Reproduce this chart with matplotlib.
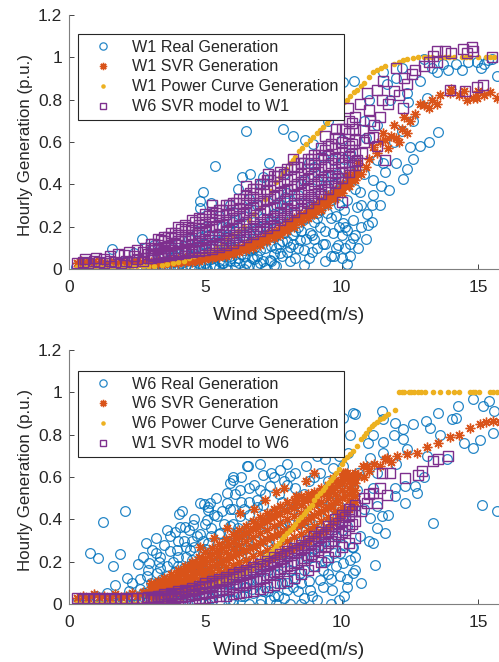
import numpy as np
import matplotlib.pyplot as plt
from matplotlib.ticker import FixedLocator

plt.rcParams['font.family'] = ['Liberation Sans', 'DejaVu Sans']

BLUE = '#0072BD'
ORANGE = '#D95319'
YELLOW = '#EDB120'
PURPLE = '#7E2F8E'
TEXT = '#262626'

band_x = [3.0, 3.25, 3.5, 3.75, 4.0, 4.25, 4.5, 4.75, 5.0, 5.25, 5.5, 5.75, 6.0, 6.25, 6.5, 6.75,
          7.0, 7.25, 7.5, 7.75, 8.0, 8.25, 8.5, 8.75, 9.0, 9.25, 9.5, 9.75, 10.0, 10.25, 10.5]
band_x_half = [3.125, 3.375, 3.625, 3.875, 4.125, 4.375, 4.625, 4.875, 5.125, 5.375, 5.625, 5.875,
               6.125, 6.375, 6.625, 6.875, 7.125, 7.375, 7.625, 7.875, 8.125, 8.375, 8.625, 8.875,
               9.125, 9.375, 9.625, 9.875, 10.125, 10.375]

# ---------------- W1 panel (wind speed m/s, generation p.u.) ----------------
w1_real = [
    (0.25, 0.01), (0.4, 0.0), (0.55, 0.02), (0.7, 0.005), (0.85, 0.015), (1.0, 0.0), (1.15, 0.01),
    (1.3, 0.02), (1.45, 0.005), (1.6, 0.0), (1.75, 0.015), (1.9, 0.01), (2.05, 0.0), (2.2, 0.02),
    (2.35, 0.005), (2.5, 0.015), (2.65, 0.0), (2.8, 0.025), (2.95, 0.01), (3.1, 0.0), (3.25, 0.03),
    (3.4, 0.005), (3.55, 0.02), (3.7, 0.0), (3.85, 0.035), (4.0, 0.01), (4.15, 0.0), (4.3, 0.04),
    (4.45, 0.015), (4.6, 0.0), (4.75, 0.03), (4.9, 0.01), (5.05, 0.0), (5.2, 0.045), (5.35, 0.015),
    (5.5, 0.005), (5.65, 0.03), (5.8, 0.0), (5.95, 0.05), (6.1, 0.01), (6.25, 0.03), (6.4, 0.0),
    (6.6, 0.02), (6.8, 0.045), (7.0, 0.027), (7.2, 0.005), (7.4, 0.04), (7.6, 0.015),
    (1.57, 0.093), (2.4, 0.075), (2.66, 0.14), (3.0, 0.09), (3.1, 0.113), (2.0, 0.04), (3.5, 0.07),
    (3.8, 0.1), (4.0, 0.12), (4.2, 0.08), (4.4, 0.14), (4.6, 0.1), (4.8, 0.32), (4.8, 0.29),
    (4.9, 0.365), (5.2, 0.31), (5.35, 0.487), (4.5, 0.06), (4.7, 0.18), (4.9, 0.12), (5.0, 0.2),
    (5.1, 0.08), (5.3, 0.16), (5.5, 0.25), (5.6, 0.12), (5.7, 0.06), (5.8, 0.2), (5.9, 0.3),
    (6.0, 0.1), (6.1, 0.18), (6.2, 0.38), (6.33, 0.436), (6.49, 0.65), (6.64, 0.45), (6.3, 0.07),
    (6.4, 0.25), (6.5, 0.14), (6.6, 0.33), (6.7, 0.05), (6.76, 0.121), (6.8, 0.22), (6.9, 0.3),
    (7.0, 0.4), (7.0, 0.09), (7.13, 0.436), (7.2, 0.16), (7.33, 0.5), (7.37, 0.168), (7.37, 0.042),
    (7.5, 0.26), (7.5, 0.35), (7.6, 0.1), (7.74, 0.074), (7.7, 0.2), (7.8, 0.247), (7.86, 0.66),
    (7.92, 0.34), (7.9, 0.45), (8.0, 0.13), (8.1, 0.105), (8.2, 0.63), (8.2, 0.3), (8.3, 0.05),
    (8.4, 0.2), (8.47, 0.137), (8.5, 0.4), (8.59, 0.23), (8.65, 0.61), (8.71, 0.31), (8.8, 0.5),
    (8.84, 0.168), (8.9, 0.08), (8.96, 0.59), (9.02, 0.85), (9.08, 0.263), (9.1, 0.42), (9.2, 0.2),
    (9.3, 0.12), (9.33, 0.53), (9.45, 0.263), (9.45, 0.39), (9.5, 0.7), (9.57, 0.326), (9.6, 0.06),
    (9.69, 0.515), (9.69, 0.168), (9.8, 0.75), (9.82, 0.45), (9.88, 0.113), (9.88, 0.89), (10.0, 0.39),
    (10.0, 0.61), (10.04, 0.885), (10.06, 0.216), (10.12, 0.098), (10.12, 0.2), (10.18, 0.326),
    (10.18, 0.184), (10.2, 0.022), (10.3, 0.55), (10.43, 0.145), (10.43, 0.23), (10.45, 0.89),
    (10.55, 0.294), (10.67, 0.365), (10.8, 0.7), (10.92, 0.26), (10.98, 0.21), (11.0, 0.8),
    (11.16, 0.42), (11.16, 0.35), (11.28, 0.515), (11.43, 0.39), (11.5, 0.93), (11.65, 0.876),
    (11.75, 0.373), (11.77, 0.80), (12.0, 0.9), (12.26, 0.424), (12.38, 0.474), (12.39, 0.83),
    (12.44, 0.79), (12.5, 0.578), (12.87, 0.58), (12.87, 0.89), (13.14, 0.81), (13.3, 0.95),
    (13.5, 0.93), (13.54, 0.646), (13.9, 0.94), (14.2, 0.97), (14.64, 0.98), (14.95, 0.98),
    (15.1, 0.95), (15.36, 0.985), (15.68, 0.91), (15.5, 0.99),
    (3.3, 0.05), (3.6, 0.04), (3.9, 0.06), (4.1, 0.05), (4.3, 0.09), (4.6, 0.07), (4.8, 0.15),
    (5.0, 0.06), (5.2, 0.11), (5.4, 0.08), (5.5, 0.04), (5.7, 0.14), (5.9, 0.06), (6.0, 0.22),
    (6.2, 0.12), (6.4, 0.09), (6.6, 0.17), (6.8, 0.1), (7.0, 0.2), (7.2, 0.28), (7.4, 0.11),
    (7.6, 0.3), (7.8, 0.06), (8.0, 0.22), (8.2, 0.16), (8.4, 0.35), (8.6, 0.09), (8.8, 0.27),
    (9.0, 0.14), (9.2, 0.36), (9.4, 0.04), (9.6, 0.44), (9.8, 0.25), (10.0, 0.05), (10.2, 0.4),
    (10.4, 0.5), (10.6, 0.1), (10.8, 0.45),
    (3.2, 0.02), (3.4, 0.06), (3.5, 0.01), (3.7, 0.05), (3.9, 0.02), (4.0, 0.08), (4.1, 0.03),
    (4.2, 0.11), (4.3, 0.02), (4.4, 0.06), (4.5, 0.1), (4.6, 0.04), (4.7, 0.13), (4.8, 0.02),
    (4.9, 0.07), (5.0, 0.12), (5.0, 0.03), (5.1, 0.16), (5.2, 0.06), (5.3, 0.02), (5.4, 0.13),
    (5.5, 0.09), (5.6, 0.2), (5.6, 0.03), (5.7, 0.1), (5.8, 0.15), (5.9, 0.04), (6.0, 0.08),
    (6.0, 0.27), (6.1, 0.13), (6.2, 0.05), (6.2, 0.2), (6.3, 0.11), (6.4, 0.16), (6.5, 0.03),
    (6.5, 0.22), (6.6, 0.09), (6.7, 0.14), (6.8, 0.28), (6.9, 0.06), (6.9, 0.19), (7.0, 0.13),
    (7.1, 0.24), (7.1, 0.04), (7.2, 0.1), (7.3, 0.18), (7.4, 0.23), (7.5, 0.07), (7.5, 0.15),
    (7.6, 0.2), (7.7, 0.12), (7.8, 0.3), (7.9, 0.17), (8.0, 0.08), (8.0, 0.36), (8.1, 0.21),
    (8.2, 0.12), (8.3, 0.27), (8.4, 0.1), (8.5, 0.18), (8.6, 0.24), (8.6, 0.42), (8.7, 0.14),
    (8.8, 0.05), (8.9, 0.3), (9.0, 0.22), (9.0, 0.48), (9.1, 0.1), (9.2, 0.28), (9.3, 0.44),
    (9.4, 0.18), (9.5, 0.34), (9.6, 0.24), (9.7, 0.4), (9.8, 0.1), (9.9, 0.3), (10.0, 0.16),
    (10.1, 0.52), (10.3, 0.12), (10.5, 0.38), (10.7, 0.2), (10.9, 0.62), (11.1, 0.3), (11.3, 0.68),
    (11.5, 0.5), (11.9, 0.6), (12.2, 0.95), (12.6, 0.7), (13.0, 0.99), (13.7, 0.97), (14.4, 0.94),
    (15.2, 0.97),
    (5.3, 0.05), (5.6, 0.08), (5.9, 0.12), (6.1, 0.04), (6.4, 0.06), (6.7, 0.1), (6.9, 0.02),
    (7.2, 0.14), (7.5, 0.02), (7.8, 0.13), (8.1, 0.04), (8.3, 0.18), (8.6, 0.02), (8.9, 0.16),
    (9.1, 0.24), (9.4, 0.12), (9.7, 0.06), (9.9, 0.2), (10.1, 0.28), (10.3, 0.06), (10.5, 0.16),
    (10.7, 0.3), (10.9, 0.14), (11.1, 0.22), (11.4, 0.3), (11.6, 0.46), (12.0, 0.5), (12.2, 0.65),
    (12.6, 0.52), (13.2, 0.6),
]

w1_svr = [
    (0.3, 0.03), (0.45, 0.04), (0.6, 0.025), (0.75, 0.035), (0.9, 0.04), (1.05, 0.03), (1.2, 0.035),
    (1.4, 0.025), (1.6, 0.04), (1.8, 0.03), (2.0, 0.035), (2.2, 0.03), (2.4, 0.04), (2.6, 0.035),
    (2.8, 0.04), (10.7, 0.45), (10.9, 0.48), (11.0, 0.52), (11.16, 0.578), (11.3, 0.55),
    (11.4, 0.6), (11.6, 0.61), (11.8, 0.63), (12.0, 0.62), (12.2, 0.66), (12.38, 0.64),
    (12.5, 0.7), (12.7, 0.73), (12.87, 0.78), (13.0, 0.775), (13.3, 0.8), (13.6, 0.82), (13.97, 0.83),
    (14.3, 0.82), (14.6, 0.8), (14.8, 0.81), (14.95, 0.806), (15.2, 0.82), (15.44, 0.838),
    (15.68, 0.81), (15.9, 0.83),
    (11.7, 0.57), (12.1, 0.6), (11.9, 0.68), (12.3, 0.72), (11.5, 0.64), (13.2, 0.76), (13.5, 0.78),
    (14.0, 0.85), (14.5, 0.84), (15.0, 0.84), (10.18, 0.45), (10.6, 0.5),
]
w1_svr_band = [
    [.02, .022, .025, .027, .03, .032, .035, .04, .045, .05, .055, .06, .07, .08, .09, .1,
     .115, .13, .145, .16, .18, .2, .22, .24, .26, .28, .3, .33, .36, .39, .42],
    [.03, .032, .035, .037, .04, .043, .046, .05, .055, .06, .066, .073, .082, .093, .105, .118,
     .132, .147, .163, .18, .2, .22, .24, .26, .28, .305, .33, .355, .38, .41, .44],
    [.035, .038, .04, .043, .047, .05, .054, .058, .063, .07, .077, .085, .095, .106, .118, .132,
     .147, .163, .18, .2, .22, .24, .26, .28, .3, .325, .35, .375, .4, .43, .46],
]
w1_svr_band_half = [
    [.028, .031, .034, .037, .041, .044, .048, .052, .057, .063, .07, .078, .088, .1, .112, .125,
     .14, .155, .172, .19, .21, .23, .25, .27, .29, .315, .34, .365, .39, .42],
]

w1_curve = [
    (0.3, 0.01), (0.5, 0.01), (0.7, 0.012), (0.9, 0.01), (1.1, 0.012), (1.3, 0.01), (1.5, 0.012),
    (1.7, 0.01), (1.9, 0.012), (2.1, 0.01), (2.3, 0.012), (2.5, 0.012), (2.7, 0.013), (2.9, 0.015),
    (3.1, 0.016), (3.4, 0.02), (3.6, 0.025), (3.8, 0.03), (4.0, 0.035), (4.2, 0.04), (4.4, 0.05),
    (4.6, 0.06), (4.8, 0.07), (5.0, 0.08), (5.2, 0.09), (5.4, 0.105), (5.6, 0.12), (5.8, 0.14),
    (6.0, 0.16), (6.2, 0.18), (6.4, 0.2), (6.6, 0.23), (6.8, 0.26), (7.0, 0.29), (7.2, 0.33),
    (7.4, 0.37), (7.6, 0.41), (7.74, 0.436), (7.85, 0.455), (7.95, 0.47), (8.1, 0.5), (8.2, 0.515),
    (8.3, 0.53), (8.45, 0.555), (8.55, 0.57), (8.7, 0.59), (8.85, 0.61), (8.95, 0.625), (9.08, 0.64),
    (9.2, 0.655), (9.3, 0.67), (9.45, 0.69), (9.55, 0.71), (9.7, 0.73), (9.82, 0.75), (9.94, 0.767),
    (10.1, 0.79), (10.2, 0.80), (10.3, 0.815), (10.45, 0.835), (10.55, 0.846), (10.7, 0.865),
    (10.8, 0.88), (11.0, 0.905), (11.16, 0.93), (11.3, 0.94), (11.45, 0.95), (11.6, 0.96),
    (11.9, 0.97), (12.1, 0.98), (12.25, 0.985), (12.38, 0.99), (12.6, 0.995), (12.8, 1.0),
    (13.0, 1.0), (13.15, 1.0), (13.3, 1.0), (13.6, 1.0), (13.8, 1.0), (13.95, 1.0), (14.1, 1.0),
    (14.4, 1.0), (14.55, 1.0), (14.7, 1.0), (15.0, 1.0), (15.3, 1.0), (15.45, 1.0), (15.6, 1.0),
    (15.9, 1.0),
]

w6_model_on_w1 = [
    (0.3, 0.03), (0.5, 0.035), (0.7, 0.03), (0.9, 0.04), (1.1, 0.035), (1.3, 0.03), (1.5, 0.04),
    (1.7, 0.035), (1.9, 0.03), (2.1, 0.04), (2.3, 0.035), (2.5, 0.045), (2.7, 0.04), (2.9, 0.05),
    (1.0, 0.05), (1.5, 0.06), (1.8, 0.07), (2.0, 0.065), (2.2, 0.08), (2.5, 0.09), (2.7, 0.08),
    (2.8, 0.1), (1.3, 0.045), (0.6, 0.045), (2.4, 0.06), (2.9, 0.07),
    (10.0, 0.318), (10.24, 0.76), (10.49, 0.61), (10.55, 0.515), (10.67, 0.78), (10.79, 0.657),
    (10.92, 0.83), (11.04, 0.70), (11.16, 0.625), (11.28, 0.845), (11.47, 0.80), (11.53, 0.89),
    (11.59, 0.515), (11.9, 0.84), (12.0, 0.95), (12.26, 0.76), (12.38, 0.876), (12.56, 0.92),
    (13.0, 0.96), (13.36, 1.006), (13.48, 0.98), (13.48, 1.03), (13.79, 1.03), (13.97, 0.846),
    (14.46, 1.04), (14.52, 0.84), (14.58, 1.02), (14.78, 1.05), (14.82, 1.03), (14.95, 0.86),
    (15.19, 0.87), (15.5, 1.0),
    (5.23, 0.30), (6.49, 0.39), (7.3, 0.45), (8.2, 0.52), (9.4, 0.63), (9.8, 0.66), (10.8, 0.6),
    (11.0, 0.75), (11.2, 0.68), (11.4, 0.72), (11.7, 0.78), (12.1, 0.82), (12.3, 0.9), (12.7, 0.94),
    (13.2, 0.98), (14.0, 1.02), (10.75, 0.55), (11.0, 0.62), (11.3, 0.58),
]
w6_model_on_w1_band = [
    [.05, .055, .06, .065, .07, .075, .08, .085, .09, .095, .105, .115, .125, .135, .15, .165,
     .18, .195, .21, .23, .25, .27, .29, .31, .33, .355, .38, .405, .43, .46, .49],
    [.065, .07, .075, .08, .085, .09, .1, .105, .115, .125, .135, .145, .16, .175, .19, .205,
     .22, .235, .25, .27, .29, .31, .33, .35, .37, .39, .41, .44, .46, .49, .51],
    [.07, .075, .08, .09, .1, .11, .12, .13, .14, .155, .165, .18, .19, .21, .22, .24,
     .26, .28, .29, .31, .33, .35, .36, .38, .4, .42, .44, .47, .5, .53, .55],
    [.09, .095, .1, .115, .13, .14, .16, .17, .18, .2, .21, .22, .24, .25, .27, .29,
     .31, .33, .34, .36, .38, .39, .41, .43, .45, .47, .49, .52, .55, .58, .61],
    [.1, .115, .13, .145, .16, .18, .195, .21, .22, .235, .25, .26, .28, .29, .31, .34,
     .36, .37, .39, .41, .42, .44, .45, .47, .5, .52, .54, .57, .6, .64, .66],
    [.12, .14, .15, .17, .2, .21, .23, .24, .26, .27, .28, .3, .31, .33, .35, .38,
     .4, .42, .44, .46, .47, .48, .5, .52, .54, .57, .58, .62, .66, .7, .72],
]
w6_model_on_w1_band_half = [
    [.06, .065, .07, .075, .08, .085, .09, .1, .105, .115, .125, .135, .15, .16, .175, .19,
     .205, .22, .24, .26, .28, .3, .32, .34, .36, .38, .41, .43, .46, .49],
    [.09, .1, .11, .12, .13, .14, .16, .17, .185, .2, .21, .23, .24, .26, .28, .3,
     .32, .33, .35, .37, .38, .4, .42, .44, .46, .48, .5, .53, .56, .59],
    [.12, .135, .15, .17, .19, .2, .22, .235, .25, .265, .28, .3, .31, .33, .36, .38,
     .4, .42, .44, .45, .47, .48, .5, .52, .54, .56, .59, .62, .66, .69],
]

# ---------------- W6 panel ----------------
w6_real = [
    (0.3, 0.01), (0.45, 0.0), (0.6, 0.02), (0.75, 0.005), (0.9, 0.015), (1.05, 0.0), (1.2, 0.01),
    (1.35, 0.025), (1.5, 0.005), (1.65, 0.015), (1.8, 0.0), (1.95, 0.03), (2.1, 0.01), (2.25, 0.04),
    (2.4, 0.0), (2.55, 0.02), (2.7, 0.05), (2.85, 0.01), (3.0, 0.03), (3.15, 0.06), (3.3, 0.0),
    (3.45, 0.04), (3.6, 0.08), (3.75, 0.015), (3.9, 0.05), (4.05, 0.1), (4.2, 0.0), (4.35, 0.06),
    (4.5, 0.12), (4.65, 0.02), (4.8, 0.08), (4.95, 0.14), (5.1, 0.0), (5.25, 0.05), (5.4, 0.1),
    (5.55, 0.02), (5.7, 0.16), (5.85, 0.06), (6.0, 0.0), (6.02, 0.019), (6.15, 0.1), (6.3, 0.04),
    (6.45, 0.2), (6.6, 0.0), (6.76, 0.05), (6.9, 0.12), (7.05, 0.02), (7.2, 0.08), (7.37, 0.019),
    (7.5, 0.14), (7.65, 0.04), (7.8, 0.1), (7.98, 0.066), (8.1, 0.0), (8.3, 0.12), (8.47, 0.146),
    (8.6, 0.03), (8.84, 0.066), (9.0, 0.18), (9.2, 0.114), (9.45, 0.209), (9.63, 0.066), (9.94, 0.13),
    (10.06, 0.193), (10.2, 0.08), (10.43, 0.146), (10.49, 0.161), (11.22, 0.185), (11.16, 0.288),
    (9.94, 0.24), (10.06, 0.28), (10.43, 0.27), (10.67, 0.319), (11.28, 0.359), (11.59, 0.335),
    (11.04, 0.406), (11.47, 0.414), (11.28, 0.462), (11.16, 0.548), (11.95, 0.548), (11.95, 0.51),
    (12.32, 0.478), (12.32, 0.556), (12.69, 0.556), (12.75, 0.525), (13.36, 0.383), (10.06, 0.65),
    (10.24, 0.715), (11.04, 0.69), (11.53, 0.715), (12.38, 0.73), (13.11, 0.70), (13.85, 0.683),
    (10.98, 0.762), (11.16, 0.80), (11.53, 0.765), (11.9, 0.80), (12.26, 0.778), (12.26, 0.825),
    (11.95, 0.857), (11.53, 0.873), (11.47, 0.912), (10.49, 0.896), (10.43, 0.904), (10.06, 0.88),
    (13.09, 0.865), (13.24, 0.833), (13.54, 0.904), (14.03, 0.876), (14.27, 0.936), (14.8, 0.967),
    (15.17, 0.936), (15.58, 0.912), (14.83, 0.738), (15.07, 0.775), (15.56, 0.81), (15.13, 0.47),
    (15.68, 0.438),
    (0.77, 0.243), (1.07, 0.217), (1.26, 0.386), (1.62, 0.18), (1.87, 0.237), (2.05, 0.441),
    (1.69, 0.09), (2.11, 0.122), (2.54, 0.19), (2.94, 0.196), (2.82, 0.288), (3.03, 0.256),
    (3.34, 0.224), (3.7, 0.322), (4.04, 0.427), (4.07, 0.364), (4.25, 0.364), (4.95, 0.474),
    (5.1, 0.46), (4.68, 0.32), (3.95, 0.256), (4.44, 0.256), (4.8, 0.209), (3.34, 0.17), (3.58, 0.13),
    (2.85, 0.13), (3.21, 0.146), (6.51, 0.65), (6.02, 0.60), (5.9, 0.57), (4.8, 0.477), (5.1, 0.446),
    (4.13, 0.438), (4.56, 0.375), (5.42, 0.414), (5.78, 0.477), (6.27, 0.54), (6.57, 0.65),
    (7.12, 0.61), (7.74, 0.635), (8.1, 0.604), (8.7, 0.65), (9.39, 0.683), (9.69, 0.643),
    (9.94, 0.46), (10.18, 0.367), (10.37, 0.27), (9.14, 0.27), (9.69, 0.30), (5.54, 0.335),
    (5.17, 0.477), (5.78, 0.525), (6.02, 0.588), (6.27, 0.414), (5.05, 0.398), (6.88, 0.493),
    (7.37, 0.556), (10.18, 0.572), (10.55, 0.54),
    (3.5, 0.28), (3.8, 0.2), (4.0, 0.3), (4.3, 0.22), (4.5, 0.3), (4.6, 0.19), (4.9, 0.3),
    (5.0, 0.26), (5.2, 0.36), (5.3, 0.24), (5.5, 0.2), (5.6, 0.44), (5.8, 0.3), (6.0, 0.38),
    (6.1, 0.25), (6.3, 0.48), (6.4, 0.33), (6.6, 0.42), (6.7, 0.26), (6.8, 0.56), (7.0, 0.38),
    (7.1, 0.47), (7.3, 0.3), (7.4, 0.62), (7.6, 0.44), (7.7, 0.52), (7.9, 0.38), (8.0, 0.56),
    (8.2, 0.45), (8.3, 0.62), (8.5, 0.3), (8.6, 0.52), (8.8, 0.4), (9.0, 0.6), (9.1, 0.35),
    (9.3, 0.5), (9.5, 0.58), (9.7, 0.38), (9.8, 0.54), (7.0, 0.0), (7.3, 0.06), (7.6, 0.0),
    (7.9, 0.03), (8.2, 0.08), (8.5, 0.0), (8.8, 0.11), (9.1, 0.02), (9.3, 0.16), (9.6, 0.0),
    (9.8, 0.18), (10.1, 0.04), (10.3, 0.21), (6.5, 0.08), (6.9, 0.18), (7.2, 0.22), (7.8, 0.2),
    (8.4, 0.24), (8.9, 0.22), (9.4, 0.3), (8.0, 0.28), (6.2, 0.16), (5.8, 0.12), (5.3, 0.15),
    (4.9, 0.05), (4.4, 0.15), (3.9, 0.12), (3.6, 0.35), (3.2, 0.31), (2.7, 0.22), (2.3, 0.1),
    (2.6, 0.07), (3.0, 0.1), (1.4, 0.05), (1.0, 0.04),
    (2.0, 0.02), (2.2, 0.06), (2.4, 0.03), (2.6, 0.12), (2.8, 0.05), (2.9, 0.16), (3.1, 0.02),
    (3.2, 0.09), (3.3, 0.2), (3.4, 0.12), (3.5, 0.05), (3.6, 0.18), (3.7, 0.25), (3.8, 0.03),
    (3.9, 0.15), (4.0, 0.22), (4.1, 0.07), (4.2, 0.3), (4.2, 0.17), (4.3, 0.11), (4.4, 0.35),
    (4.5, 0.04), (4.5, 0.21), (4.6, 0.27), (4.7, 0.14), (4.8, 0.33), (4.9, 0.24), (5.0, 0.1),
    (5.0, 0.38), (5.1, 0.29), (5.2, 0.18), (5.2, 0.03), (5.3, 0.42), (5.4, 0.26), (5.5, 0.12),
    (5.5, 0.33), (5.6, 0.06), (5.7, 0.38), (5.7, 0.27), (5.8, 0.18), (5.9, 0.45), (5.9, 0.02),
    (6.0, 0.3), (6.1, 0.52), (6.1, 0.09), (6.2, 0.36), (6.3, 0.22), (6.3, 0.6), (6.4, 0.45),
    (6.5, 0.14), (6.5, 0.3), (6.6, 0.55), (6.7, 0.07), (6.7, 0.38), (6.8, 0.2), (6.9, 0.46),
    (7.0, 0.66), (7.0, 0.12), (7.1, 0.32), (7.2, 0.52), (7.3, 0.16), (7.4, 0.42), (7.5, 0.04),
    (7.5, 0.6), (7.6, 0.3), (7.7, 0.14), (7.8, 0.48), (7.9, 0.24), (8.0, 0.1), (8.0, 0.66),
    (8.1, 0.38), (8.2, 0.2), (8.3, 0.55), (8.4, 0.06), (8.5, 0.44), (8.6, 0.16), (8.7, 0.35),
    (8.8, 0.58), (8.9, 0.04), (9.0, 0.26), (9.0, 0.45), (9.1, 0.7), (9.2, 0.36), (9.3, 0.08),
    (9.4, 0.2), (9.5, 0.42), (9.6, 0.12), (9.7, 0.75), (9.8, 0.32), (9.9, 0.02), (10.0, 0.52),
    (10.1, 0.42), (10.2, 0.12), (10.3, 0.8), (10.5, 0.22), (10.6, 0.62), (10.7, 0.1), (10.8, 0.45),
    (11.0, 0.3), (11.3, 0.62), (11.7, 0.42), (12.0, 0.66), (12.6, 0.85), (13.0, 0.6), (13.6, 0.8),
    (14.2, 0.88), (14.5, 0.76), (15.4, 0.96),
    (2.5, 0.0), (2.9, 0.03), (3.3, 0.06), (3.6, 0.01), (3.9, 0.08), (4.1, 0.02), (4.4, 0.09),
    (4.7, 0.05), (4.8, 0.16), (5.1, 0.12), (5.4, 0.06), (5.6, 0.22), (5.9, 0.1), (6.2, 0.28),
    (6.4, 0.04), (6.6, 0.12), (6.9, 0.3), (7.1, 0.06), (7.3, 0.24), (7.6, 0.1), (7.8, 0.36),
    (8.1, 0.16), (8.3, 0.3), (8.5, 0.1), (8.7, 0.22), (8.9, 0.38), (9.2, 0.28), (9.5, 0.14),
    (9.7, 0.24), (10.0, 0.35), (4.0, 0.18), (4.6, 0.4), (5.4, 0.5), (6.0, 0.45), (6.6, 0.48),
    (7.2, 0.38), (7.9, 0.58), (8.4, 0.38), (9.2, 0.62), (9.9, 0.7), (3.2, 0.24), (3.9, 0.34),
    (4.3, 0.27), (5.2, 0.32), (5.9, 0.37), (6.4, 0.26), (7.0, 0.54), (7.7, 0.34), (8.6, 0.28),
    (9.6, 0.48),
]

w6_svr = [
    (0.3, 0.03), (0.5, 0.04), (0.7, 0.03), (0.9, 0.045), (1.1, 0.035), (1.3, 0.04), (1.5, 0.03),
    (1.7, 0.045), (1.9, 0.035), (2.1, 0.04), (2.3, 0.05), (2.5, 0.04), (2.7, 0.055), (2.9, 0.045),
    (10.18, 0.62), (10.3, 0.58), (10.6, 0.61), (10.92, 0.65), (11.2, 0.66), (11.59, 0.686),
    (11.65, 0.69), (12.02, 0.70), (12.4, 0.71), (12.75, 0.715), (13.11, 0.74), (13.54, 0.76),
    (13.97, 0.79), (14.3, 0.8), (14.7, 0.83), (15.07, 0.85), (15.3, 0.86), (15.56, 0.865),
    (15.8, 0.86), (10.8, 0.6), (11.0, 0.63), (11.4, 0.65), (11.8, 0.67),
    (9.0, 0.62), (9.69, 0.596), (9.45, 0.525), (8.34, 0.51), (9.08, 0.478), (10.06, 0.62),
    (10.79, 0.65), (10.12, 0.62), (7.6, 0.53), (7.2, 0.49), (6.8, 0.45), (6.27, 0.43), (5.8, 0.36),
    (7.9, 0.55), (8.7, 0.58), (4.8, 0.27), (5.3, 0.31),
]
w6_svr_band = [
    [.035, .04, .045, .05, .06, .07, .08, .095, .11, .12, .13, .14, .15, .16, .17, .18,
     .195, .21, .22, .235, .25, .265, .28, .3, .32, .34, .36, .39, .42, .45, .48],
    [.045, .05, .06, .07, .08, .09, .105, .12, .135, .15, .16, .175, .185, .2, .21, .225,
     .24, .255, .27, .285, .3, .315, .33, .35, .37, .39, .41, .44, .46, .49, .51],
    [.055, .065, .075, .085, .1, .11, .125, .145, .16, .18, .195, .21, .225, .24, .255, .27,
     .29, .305, .32, .335, .35, .365, .38, .4, .42, .44, .46, .48, .5, .52, .54],
    [.065, .075, .09, .1, .115, .13, .15, .17, .19, .21, .225, .245, .26, .28, .3, .315,
     .335, .35, .37, .385, .4, .415, .43, .45, .47, .48, .5, .52, .54, .55, .57],
    [.08, .09, .105, .12, .135, .155, .175, .195, .215, .235, .255, .275, .295, .315, .335, .355,
     .375, .39, .41, .425, .44, .455, .47, .49, .5, .52, .53, .55, .57, .58, .59],
    [.1, .11, .125, .14, .16, .18, .2, .22, .245, .265, .285, .305, .33, .35, .37, .39,
     .41, .43, .45, .465, .48, .49, .51, .52, .53, .55, .56, .58, .6, .61, .62],
]
w6_svr_band_half = [
    [.04, .045, .05, .055, .065, .075, .09, .1, .115, .125, .135, .145, .155, .165, .175, .19,
     .2, .215, .23, .245, .26, .275, .29, .31, .33, .35, .375, .405, .435, .465],
    [.06, .07, .08, .09, .105, .12, .135, .155, .17, .19, .2, .22, .235, .25, .265, .28,
     .3, .315, .33, .345, .36, .375, .39, .41, .43, .45, .47, .49, .51, .53],
    [.09, .1, .11, .13, .145, .165, .185, .205, .225, .245, .265, .285, .31, .33, .35, .37,
     .39, .41, .43, .445, .46, .475, .49, .505, .52, .535, .55, .57, .59, .6],
]

w6_curve = [
    (0.3, 0.005), (0.5, 0.005), (0.7, 0.006), (0.9, 0.005), (1.1, 0.006), (1.3, 0.005), (1.5, 0.006),
    (1.7, 0.005), (1.9, 0.006), (2.1, 0.005), (2.3, 0.006), (2.5, 0.006), (2.7, 0.007), (2.9, 0.007),
    (3.1, 0.008), (3.3, 0.008), (3.5, 0.01), (3.7, 0.02), (3.9, 0.025), (4.1, 0.03), (4.3, 0.04),
    (4.5, 0.05), (4.7, 0.06), (4.9, 0.07), (5.1, 0.08), (5.3, 0.09), (5.5, 0.1), (5.7, 0.11),
    (5.9, 0.12), (6.1, 0.13), (6.3, 0.14), (6.5, 0.15), (6.64, 0.16), (6.8, 0.18), (6.9, 0.19),
    (7.0, 0.2), (7.12, 0.209), (7.2, 0.22), (7.3, 0.23), (7.4, 0.245), (7.5, 0.26), (7.6, 0.275),
    (7.7, 0.29), (7.8, 0.305), (7.9, 0.32), (8.0, 0.335), (8.1, 0.35), (8.2, 0.365), (8.3, 0.38),
    (8.4, 0.395), (8.5, 0.41), (8.6, 0.425), (8.7, 0.44), (8.8, 0.455), (8.9, 0.47), (9.0, 0.49),
    (9.1, 0.51), (9.2, 0.525), (9.3, 0.54), (9.4, 0.555), (9.5, 0.57), (9.6, 0.585), (9.69, 0.60),
    (9.8, 0.62), (9.9, 0.64), (10.0, 0.66), (10.1, 0.68), (10.2, 0.695), (10.3, 0.71), (10.4, 0.725),
    (10.55, 0.746), (10.7, 0.78), (10.8, 0.795), (10.9, 0.81), (11.0, 0.825), (11.1, 0.84),
    (11.2, 0.85), (11.3, 0.86), (11.4, 0.873), (11.5, 0.88), (11.6, 0.89), (11.7, 0.9),
    (11.95, 0.917),
    (12.1, 1.0), (12.2, 1.0), (12.3, 1.0), (12.45, 1.0), (12.55, 1.0), (12.65, 1.0), (12.8, 1.0),
    (12.9, 1.0), (13.05, 1.0), (13.35, 1.0), (13.6, 1.0), (13.9, 1.0), (14.1, 1.0), (14.3, 1.0),
    (14.7, 1.0), (14.8, 1.0), (14.9, 1.0), (15.05, 1.0), (15.45, 1.0), (15.55, 1.0), (15.7, 1.0),
    (15.8, 1.0),
]

w1_model_on_w6 = [
    (0.3, 0.03), (0.5, 0.025), (0.7, 0.03), (0.9, 0.025), (1.1, 0.03), (1.3, 0.025), (1.5, 0.03),
    (1.7, 0.025), (1.9, 0.03), (2.1, 0.025), (2.3, 0.03), (2.5, 0.03), (2.7, 0.03), (2.9, 0.035),
    (10.7, 0.44), (10.92, 0.478), (11.16, 0.525), (11.28, 0.478), (11.47, 0.62), (11.65, 0.517),
    (11.77, 0.62), (12.32, 0.596), (12.81, 0.61), (12.93, 0.627), (13.36, 0.675), (13.54, 0.683),
    (13.9, 0.699), (10.8, 0.5), (11.0, 0.52), (11.4, 0.55),
]
w1_model_on_w6_band = [
    [.02, .02, .02, .022, .022, .024, .025, .027, .03, .033, .036, .04, .045, .05, .055, .06,
     .07, .08, .09, .1, .11, .125, .14, .16, .18, .2, .22, .25, .27, .29, .31],
    [.025, .027, .03, .033, .036, .04, .045, .05, .055, .06, .065, .07, .08, .09, .1, .11,
     .12, .135, .15, .165, .18, .195, .21, .23, .25, .27, .29, .32, .34, .37, .39],
    [.03, .033, .037, .042, .048, .055, .062, .07, .08, .09, .1, .11, .12, .13, .14, .155,
     .17, .185, .2, .215, .23, .245, .26, .28, .3, .32, .34, .37, .39, .42, .44],
    [.035, .04, .045, .052, .06, .068, .077, .087, .097, .107, .118, .128, .14, .15, .16, .175,
     .19, .205, .22, .235, .25, .265, .28, .3, .32, .34, .37, .4, .42, .45, .47],
]
w1_model_on_w6_band_half = [
    [.022, .024, .026, .03, .033, .037, .042, .047, .052, .058, .064, .072, .08, .09, .1, .11,
     .125, .14, .155, .17, .185, .2, .215, .235, .255, .275, .3, .33, .35, .38],
    [.032, .036, .04, .046, .052, .06, .068, .078, .087, .097, .107, .117, .128, .14, .152, .165,
     .18, .195, .21, .225, .24, .255, .27, .29, .31, .33, .355, .385, .41, .44],
]


def with_band(points, band, band_half):
    pts = list(points)
    for row in band:
        pts += list(zip(band_x, row))
    for row in band_half:
        pts += list(zip(band_x_half, row))
    return np.array(pts)


panels = [
    (0.5937, w1_real, with_band(w1_svr, w1_svr_band, w1_svr_band_half), w1_curve,
     with_band(w6_model_on_w1, w6_model_on_w1_band, w6_model_on_w1_band_half),
     ['W1 Real Generation', 'W1 SVR Generation', 'W1 Power Curve Generation', 'W6 SVR model to W1'],
     1 - 34 / 662),
    (0.0876, w6_real, with_band(w6_svr, w6_svr_band, w6_svr_band_half), w6_curve,
     with_band(w1_model_on_w6, w1_model_on_w6_band, w1_model_on_w6_band_half),
     ['W6 Real Generation', 'W6 SVR Generation', 'W6 Power Curve Generation', 'W1 SVR model to W6'],
     1 - 371 / 662),
]

y_ticks = [0, 0.2, 0.4, 0.6, 0.8, 1.0, 1.2]
y_labels = ['0', '0.2', '0.4', '0.6', '0.8', '1', '1.2']
x_ticks = [0, 5, 10, 15]
x_max = 16.1

fig = plt.figure(figsize=(4.99, 6.62), dpi=100)

for bottom, real, svr, curve, cross, names, leg_top in panels:
    ax = fig.add_axes([69 / 499, bottom, x_max * 27.27 / 499, 0.3837])
    real, curve = np.array(real), np.array(curve)

    ax.plot(real[:, 0], real[:, 1], 'o', ms=7, mfc='none', mec=BLUE, mew=0.9, alpha=0.85, label=names[0])
    ax.plot(svr[:, 0], svr[:, 1], ls='none', marker=(8, 2, 0), ms=7, mec=ORANGE, mew=1.0, label=names[1])
    ax.plot(curve[:, 0], curve[:, 1], '.', ms=6, color=YELLOW, label=names[2])
    ax.plot(cross[:, 0], cross[:, 1], 's', ms=6.5, mfc='none', mec=PURPLE, mew=1.0, label=names[3])

    ax.set_xlim(0, x_max)
    ax.set_ylim(0, 1.2)
    ax.xaxis.set_major_locator(FixedLocator(x_ticks))
    ax.set_xticklabels([str(t) for t in x_ticks])
    ax.yaxis.set_major_locator(FixedLocator(y_ticks))
    ax.set_yticklabels(y_labels)
    ax.tick_params(direction='in', length=3.5, width=0.6, colors=TEXT, labelsize=12.5)
    ax.tick_params(axis='x', pad=8)
    ax.tick_params(axis='y', pad=5)
    for side in ('top', 'right'):
        ax.spines[side].set_visible(False)
    for side in ('left', 'bottom'):
        ax.spines[side].set_color('#7f7f7f')
        ax.spines[side].set_linewidth(0.8)

    ax.set_xlabel('Wind Speed(m/s)', fontsize=14, color=TEXT)
    ax.set_ylabel('Hourly Generation (p.u.)', fontsize=12.2, color=TEXT)
    ax.xaxis.set_label_coords(0.5, -0.15)
    ax.yaxis.set_label_coords(-0.082, 0.49)

    leg = ax.legend(loc='upper left', bbox_to_anchor=(78 / 499, leg_top), bbox_transform=fig.transFigure,
                    borderaxespad=0, fontsize=11.6, numpoints=1, markerscale=0.75, fancybox=False,
                    framealpha=1, edgecolor=TEXT, handlelength=2.4, handletextpad=0.6,
                    labelspacing=0.3, borderpad=0.35)
    leg.get_frame().set_linewidth(0.8)
    for t in leg.get_texts():
        t.set_color(TEXT)

fig.savefig('out.png', dpi=100)
